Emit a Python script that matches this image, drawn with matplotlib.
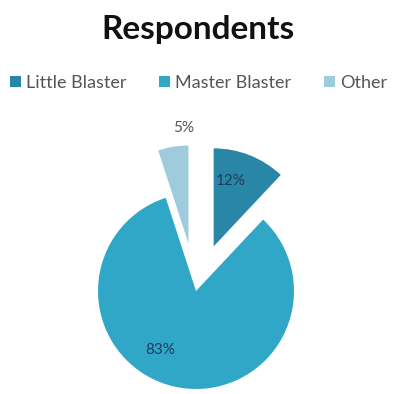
import matplotlib
matplotlib.use("Agg")
import matplotlib.pyplot as plt

# data
labels = ["Little Blaster", "Master Blaster", "Other"]
shares = [12, 83, 5]
colors = ["#2A86A6", "#31A7C8", "#9ECCDD"]
explode = [48, 0, 48]   # in pixels, since axes units are pixels here

plt.rcParams['font.family'] = ['Lato', 'DejaVu Sans']

fig = plt.figure(figsize=(3.97, 3.94), dpi=100)
ax = fig.add_axes([0, 0, 1, 1])

wedges, texts, autotexts = ax.pie(
    shares, colors=colors, explode=explode, startangle=90, counterclock=False,
    center=(196, 103), radius=98, autopct='%1.0f%%', pctdistance=0.62,
    wedgeprops=dict(linewidth=0), textprops=dict(fontsize=11, color="#1F3B5C"))
ax.set_xlim(0, 397)
ax.set_ylim(0, 394)
ax.set_aspect('auto')
ax.axis('off')

# label positions
autotexts[0].set_position((231, 213))
autotexts[1].set_position((160, 44))
autotexts[2].set_position((184, 266))
autotexts[2].set_color("#555555")

fig.text(0.5, 0.925, "Respondents", ha='center', va='center',
         fontsize=24, fontweight='bold', color="#111111")

leg = fig.legend(wedges, labels, loc='center', bbox_to_anchor=(0.5, 0.79),
                 ncol=3, frameon=False, fontsize=13, handlelength=0.6,
                 handleheight=0.6, handletextpad=0.3, columnspacing=1.8)
for t in leg.get_texts():
    t.set_color("#555555")

fig.savefig("out.png", dpi=100)
